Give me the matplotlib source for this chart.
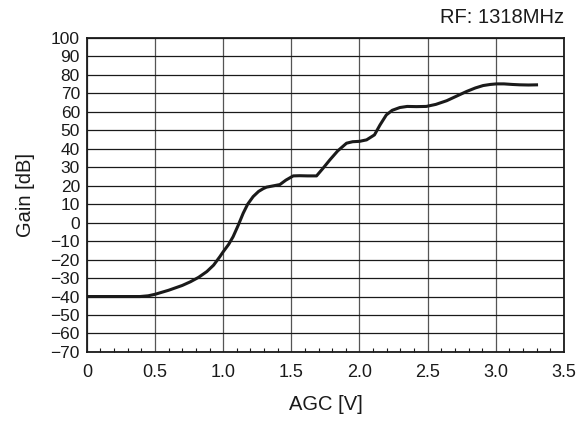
import numpy as np
import matplotlib.pyplot as plt
from matplotlib.ticker import MultipleLocator

# AGC voltage [V] vs gain [dB]
agc_v = [0.0, 0.2, 0.39, 0.45, 0.5, 0.6, 0.7, 0.76, 0.82, 0.88, 0.93, 0.976, 1.0,
         1.04, 1.073, 1.11, 1.147, 1.18, 1.22, 1.26, 1.294, 1.318, 1.36, 1.416,
         1.46, 1.514, 1.56, 1.62, 1.685, 1.73, 1.783, 1.84, 1.905, 1.95, 2.0,
         2.052, 2.11, 2.15, 2.197, 2.24, 2.296, 2.35, 2.418, 2.49, 2.56, 2.64,
         2.71, 2.786, 2.85, 2.907, 2.96, 3.005, 3.06, 3.12, 3.176, 3.24, 3.31]
gain_db = [-40, -40, -40, -39.6, -38.8, -36.6, -34.0, -32.0, -29.6, -26.5, -23.0,
           -18.4, -15.8, -11.8, -7.6, -1.5, 5.1, 10.0, 14.1, 16.9, 18.4, 19.2,
           19.8, 20.6, 23.0, 25.3, 25.4, 25.3, 25.3, 29.2, 34.0, 38.8, 43.0,
           43.8, 44.0, 44.8, 47.5, 52.8, 58.3, 60.8, 62.3, 62.9, 62.8, 62.9,
           64.0, 66.0, 68.4, 71.0, 72.9, 74.2, 74.8, 75.1, 75.1, 74.8, 74.6,
           74.5, 74.6]

x_ticks = [0, 0.5, 1.0, 1.5, 2.0, 2.5, 3.0, 3.5]
x_labels = ["0", "0.5", "1.0", "1.5", "2.0", "2.5", "3.0", "3.5"]
y_ticks = list(range(-70, 101, 10))

plt.rcParams['font.family'] = ['Liberation Sans', 'DejaVu Sans']

fig = plt.figure(figsize=(5.79, 4.21), dpi=100)
ax = fig.add_axes([0.150, 0.164, 0.824, 0.746])

ax.plot(agc_v, gain_db, color='#1a1a1a', linewidth=2.2, solid_capstyle='butt', zorder=3)

ax.set_xlim(0, 3.5)
ax.set_ylim(-70, 100)
ax.set_xticks(x_ticks)
ax.set_xticklabels(x_labels)
ax.set_yticks(y_ticks)
ax.xaxis.set_minor_locator(MultipleLocator(0.1))

ax.grid(True, which='major', axis='y', color='#1a1a1a', linewidth=0.9)
ax.grid(True, which='major', axis='x', color='#555555', linewidth=0.9)

ax.tick_params(axis='both', which='major', length=0, colors='#1a1a1a')
ax.tick_params(axis='x', which='major', pad=9, labelsize=13)
ax.tick_params(axis='y', which='major', pad=5, labelsize=12.5)
ax.tick_params(axis='x', which='minor', direction='in', length=3, width=0.8, color='#1a1a1a')
ax.tick_params(axis='y', which='minor', length=0)

for sp in ax.spines.values():
    sp.set_linewidth(1.3)
    sp.set_color('#1a1a1a')

ax.set_xlabel('AGC [V]', fontsize=14.5, color='#1a1a1a', labelpad=10)
ax.set_ylabel('Gain [dB]', fontsize=14.5, color='#1a1a1a', labelpad=11)

fig.text(0.974, 0.958, 'RF: 1318MHz', ha='right', va='center', fontsize=14.5, color='#1a1a1a')

fig.savefig('out.png', dpi=100)
